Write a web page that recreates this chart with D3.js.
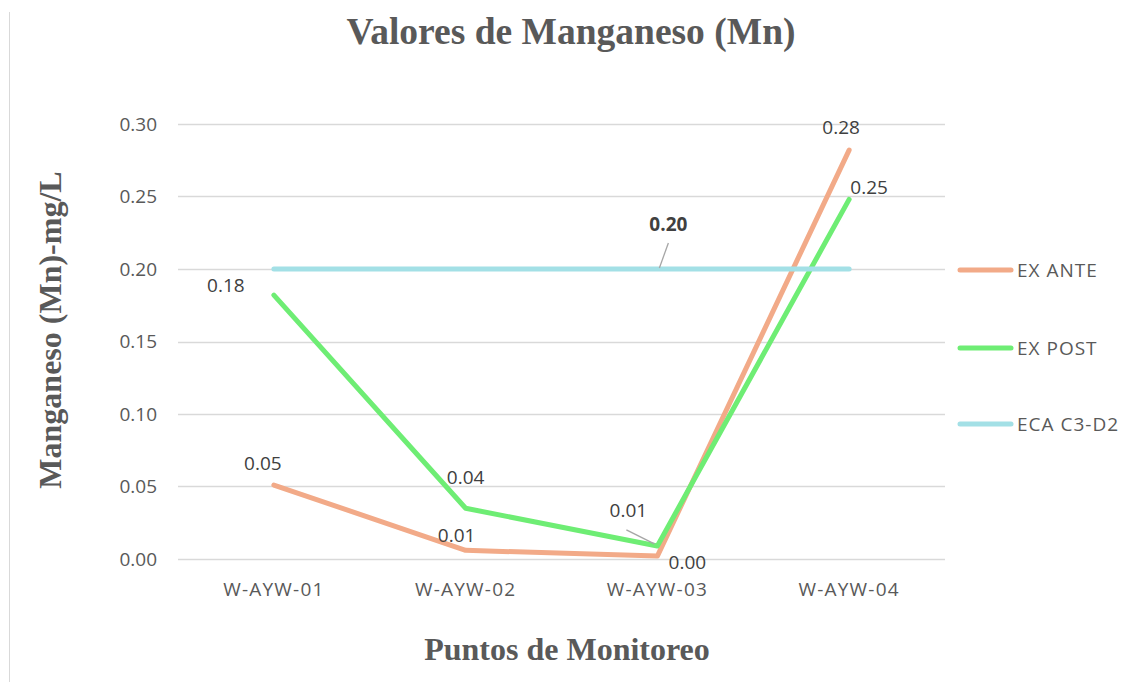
<!DOCTYPE html>
<html>
<head>
<meta charset="utf-8">
<script src="https://cdn.jsdelivr.net/npm/d3@7"></script>
<style>
  body { margin: 0; background: #fff; }
  svg { display: block; }
</style>
</head>
<body>
<svg id="chart" width="1123" height="682"></svg>
<script>
var categories = ["W-AYW-01", "W-AYW-02", "W-AYW-03", "W-AYW-04"];
var exAnte = [0.051, 0.006, 0.002, 0.282];
var exPost = [0.182, 0.035, 0.009, 0.248];
var ecaC3D2 = [0.20, 0.20, 0.20, 0.20];
var yTicks = [0, 0.05, 0.10, 0.15, 0.20, 0.25, 0.30];
var seriesNames = ["EX ANTE", "EX POST", "ECA C3-D2"];
var seriesColors = ["#F2AA88", "#6EED74", "#A3E0E6"];

var svg = d3.select("#chart");
var padding = {top: 124, left: 178, right: 178, bottom: 123};
var charArea = {width: 1123 - padding.left - padding.right, height: 682 - padding.top - padding.bottom};
var sansFont = "'Open Sans', 'Noto Sans', sans-serif";
var serifFont = "'Liberation Serif', 'Times New Roman', serif";

var xScale = d3.scaleBand().domain(categories).range([0, charArea.width]);
var yScale = d3.scaleLinear().domain([0, 0.30]).range([charArea.height, 0]);
var cx = function(i) { return xScale(categories[i]) + xScale.bandwidth() / 2; };

// left frame line
svg.append("line")
    .attr("x1", 9.5).attr("x2", 9.5).attr("y1", 12).attr("y2", 682)
    .attr("stroke", "#d9d9d9").attr("stroke-width", 1);

// title
svg.append("text")
    .attr("x", 571).attr("y", 44)
    .attr("text-anchor", "middle")
    .style("font-family", serifFont).style("font-weight", "bold")
    .style("font-size", "37.5px").style("fill", "#595959")
    .text("Valores de Manganeso (Mn)");

var g = svg.append("g").attr("transform", "translate(" + padding.left + "," + padding.top + ")");

// gridlines
g.append("g").selectAll("line").data(yTicks).enter()
    .append("line")
    .attr("x1", 0).attr("x2", charArea.width)
    .attr("y1", function(d) { return Math.round(yScale(d)) + 0.5; })
    .attr("y2", function(d) { return Math.round(yScale(d)) + 0.5; })
    .attr("stroke", "#d9d9d9").attr("stroke-width", 1.3);

// y axis
var yAxis = g.append("g")
    .call(d3.axisLeft(yScale).tickValues(yTicks).tickFormat(d3.format(".2f")).tickSize(0).tickPadding(21));
yAxis.select(".domain").remove();
yAxis.selectAll("text")
    .style("font-family", sansFont).style("font-size", "19px").style("fill", "#595959");

// x axis
var xAxis = g.append("g")
    .attr("transform", "translate(0," + charArea.height + ")")
    .call(d3.axisBottom(xScale).tickSize(0).tickPadding(24));
xAxis.select(".domain").remove();
xAxis.selectAll("text")
    .style("font-family", sansFont).style("font-size", "19px").style("fill", "#595959")
    .style("letter-spacing", "1.2px");

// axis titles
svg.append("text")
    .attr("transform", "translate(61,330) rotate(-90)")
    .attr("text-anchor", "middle")
    .style("font-family", serifFont).style("font-weight", "bold")
    .style("font-size", "32px").style("fill", "#595959")
    .text("Manganeso (Mn)-mg/L");

svg.append("text")
    .attr("x", 567).attr("y", 660)
    .attr("text-anchor", "middle")
    .style("font-family", serifFont).style("font-weight", "bold")
    .style("font-size", "32px").style("fill", "#595959")
    .text("Puntos de Monitoreo");

// lines
var line = d3.line()
    .x(function(d, i) { return cx(i); })
    .y(function(d) { return yScale(d); });

var allSeries = [exAnte, exPost, ecaC3D2];
allSeries.forEach(function(s, k) {
    g.append("path")
        .datum(s)
        .attr("d", line)
        .attr("fill", "none")
        .attr("stroke", seriesColors[k])
        .attr("stroke-width", 5)
        .attr("stroke-linecap", "round")
        .attr("stroke-linejoin", "round");
});

// data labels (offsets relative to point)
var labelStyle = function(sel) {
    return sel.style("font-family", sansFont).style("font-size", "19px").style("fill", "#404040");
};
var anteOffsets = [[-11, -15], [-9, -8], [30, 13], [-8, -16]];
var postOffsets = [[-48, -3], [0, -24], [-29, -29], [20, -5]];

exAnte.forEach(function(v, i) {
    labelStyle(g.append("text")
        .attr("x", cx(i) + anteOffsets[i][0])
        .attr("y", yScale(v) + anteOffsets[i][1])
        .attr("text-anchor", "middle"))
        .text(d3.format(".2f")(v));
});
exPost.forEach(function(v, i) {
    labelStyle(g.append("text")
        .attr("x", cx(i) + postOffsets[i][0])
        .attr("y", yScale(v) + postOffsets[i][1])
        .attr("text-anchor", "middle"))
        .text(d3.format(".2f")(v));
});

// leader line for EX POST at W-AYW-03
g.append("line")
    .attr("x1", cx(2) - 31).attr("y1", yScale(exPost[2]) - 16)
    .attr("x2", cx(2) - 3).attr("y2", yScale(exPost[2]) - 2)
    .attr("stroke", "#a6a6a6").attr("stroke-width", 1.3);

// ECA label with leader line
labelStyle(g.append("text")
    .attr("x", cx(2) + 11).attr("y", yScale(ecaC3D2[2]) - 38)
    .attr("text-anchor", "middle")
    .style("font-weight", "bold"))
    .text(d3.format(".2f")(ecaC3D2[2]));
g.append("line")
    .attr("x1", cx(2) + 11).attr("y1", yScale(ecaC3D2[2]) - 26)
    .attr("x2", cx(2) + 2).attr("y2", yScale(ecaC3D2[2]) - 1)
    .attr("stroke", "#a6a6a6").attr("stroke-width", 1.3);

// legend
var legendY = [270, 348, 424];
var legend = svg.append("g");
seriesNames.forEach(function(name, k) {
    legend.append("line")
        .attr("x1", 960).attr("x2", 1011)
        .attr("y1", legendY[k]).attr("y2", legendY[k])
        .attr("stroke", seriesColors[k]).attr("stroke-width", 5)
        .attr("stroke-linecap", "round");
    legend.append("text")
        .attr("x", 1017).attr("y", legendY[k] + 7)
        .style("font-family", sansFont).style("font-size", "19px").style("fill", "#595959")
        .style("letter-spacing", "1px")
        .text(name);
});
</script>
</body>
</html>
